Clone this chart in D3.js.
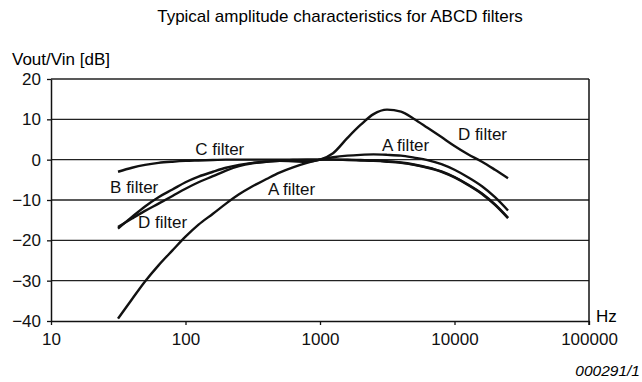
<!DOCTYPE html>
<html>
<head>
<meta charset="utf-8">
<script src="https://cdn.jsdelivr.net/npm/d3@7"></script>
<style>
  html, body { margin: 0; padding: 0; background: #fff; }
  svg { display: block; font-family: "Liberation Sans", Arial, sans-serif; }
</style>
</head>
<body>
<div id="chart"></div>
<script>
// Frequencies (Hz) of the plotted points
const freqs = [31.5, 40, 50, 63, 80, 100, 125, 160, 200, 250, 315, 400, 500, 630, 800,
  1000, 1250, 1600, 2000, 2500, 3150, 4000, 5000, 6300, 8000, 10000, 12500, 16000, 20000, 25000];

// Amplitude (dB) of each filter
const aFilter = [-39.4, -34.6, -30.2, -26.2, -22.5, -19.1, -16.1, -13.4, -10.9, -8.6, -6.6, -4.8, -3.2, -1.9, -0.8,
  0, 0.6, 1.0, 1.2, 1.3, 1.2, 1.0, 0.5, -0.1, -1.1, -2.5, -4.3, -6.6, -9.3, -12.6];
const bFilter = [-17.1, -14.2, -11.6, -9.3, -7.4, -5.6, -4.2, -3.0, -2.0, -1.3, -0.8, -0.5, -0.3, -0.1, 0,
  0, 0, 0, -0.1, -0.2, -0.4, -0.7, -1.2, -1.9, -2.9, -4.3, -6.1, -8.4, -11.1, -14.4];
const cFilter = [-3.0, -2.0, -1.3, -0.8, -0.5, -0.3, -0.2, -0.1, 0, 0, 0, 0, 0, 0, 0,
  0, 0, -0.1, -0.2, -0.3, -0.5, -0.8, -1.3, -2.0, -3.0, -4.4, -6.2, -8.5, -11.2, -14.5];
const dFilter = [-16.7, -14.6, -12.7, -10.9, -9.0, -7.2, -5.6, -4.1, -2.7, -1.6, -0.9, -0.5, -0.3, -0.4, -0.5,
  0, 1.6, 5.4, 8.6, 11.3, 12.4, 11.9, 10.1, 7.9, 5.6, 3.4, 1.4, -0.5, -2.5, -4.6];

// Axis ticks
const xTicks = [10, 100, 1000, 10000, 100000];
const yTicks = [-40, -30, -20, -10, 0, 10, 20];

// Curve labels: text and anchor point (Hz, dB) of the start of the baseline
const labelText = ['C filter', 'B filter', 'D filter', 'A filter', 'A filter', 'D filter'];
const labelFreq = [118, 27.5, 44.4, 410, 2890, 10600];
const labelDb = [1.2, -8.3, -16.9, -8.75, 2.2, 4.9];

const width = 642, height = 382;
const plotLeft = 51, plotRight = 589, plotTop = 79, plotBottom = 321;

const svg = d3.select('#chart').append('svg')
  .attr('width', width)
  .attr('height', height);

const x = d3.scaleLog().domain([10, 100000]).range([plotLeft, plotRight]);
const y = d3.scaleLinear().domain([-40, 20]).range([plotBottom, plotTop]);

// Title and axis captions
svg.append('text')
  .attr('x', 340).attr('y', 22)
  .attr('text-anchor', 'middle')
  .attr('font-size', 17)
  .text('Typical amplitude characteristics for ABCD filters');

svg.append('text')
  .attr('x', 12).attr('y', 65)
  .attr('font-size', 17)
  .text('Vout/Vin [dB]');

svg.append('text')
  .attr('x', 596).attr('y', 322)
  .attr('font-size', 17)
  .text('Hz');

svg.append('text')
  .attr('x', 640).attr('y', 376)
  .attr('text-anchor', 'end')
  .attr('font-size', 15.5)
  .attr('font-style', 'italic')
  .text('000291/1');

// Horizontal grid lines
svg.append('g')
  .selectAll('line')
  .data(yTicks.filter(d => d > -40))
  .enter().append('line')
  .attr('x1', plotLeft).attr('x2', plotRight)
  .attr('y1', d => y(d)).attr('y2', d => y(d))
  .attr('stroke', '#222')
  .attr('stroke-width', 1.3);

// Y axis
const yAxis = svg.append('g')
  .attr('transform', `translate(${plotLeft},0)`)
  .call(d3.axisLeft(y).tickValues(yTicks).tickSize(4).tickSizeOuter(0)
    .tickFormat(d => d < 0 ? '\u2212' + Math.abs(d) : d));
yAxis.select('.domain').attr('stroke', '#111').attr('stroke-width', 1.5);
yAxis.selectAll('.tick line').attr('stroke', '#111').attr('stroke-width', 1.3);
yAxis.selectAll('.tick text')
  .attr('x', -10)
  .attr('font-size', 17)
  .attr('font-family', '"Liberation Sans", Arial, sans-serif')
  .attr('fill', '#111');

// X axis
const xAxis = svg.append('g')
  .attr('transform', `translate(0,${plotBottom})`)
  .call(d3.axisBottom(x).tickValues(xTicks).tickSize(4).tickSizeOuter(0)
    .tickFormat(d3.format('d')));
xAxis.select('.domain').attr('stroke', '#111').attr('stroke-width', 1.5);
xAxis.selectAll('.tick line').attr('stroke', '#111').attr('stroke-width', 1.3);
xAxis.selectAll('.tick text')
  .attr('y', 12)
  .attr('font-size', 17)
  .attr('font-family', '"Liberation Sans", Arial, sans-serif')
  .attr('fill', '#111');

// Right frame line
svg.append('line')
  .attr('x1', plotRight).attr('x2', plotRight)
  .attr('y1', y(20)).attr('y2', plotBottom + 4)
  .attr('stroke', '#111')
  .attr('stroke-width', 1.5);

// Filter curves
const line = d3.line()
  .x(d => x(d[0]))
  .y(d => y(d[1]))
  .curve(d3.curveMonotoneX);

const series = [aFilter, bFilter, cFilter, dFilter];
svg.append('g')
  .selectAll('path')
  .data(series)
  .enter().append('path')
  .attr('d', s => line(freqs.map((f, i) => [f, s[i]])))
  .attr('fill', 'none')
  .attr('stroke', '#111')
  .attr('stroke-width', 2.4)
  .attr('stroke-linejoin', 'round');

// Curve labels
svg.append('g')
  .selectAll('text')
  .data(labelText)
  .enter().append('text')
  .attr('x', (d, i) => x(labelFreq[i]))
  .attr('y', (d, i) => y(labelDb[i]))
  .attr('font-size', 17)
  .attr('fill', '#111')
  .text(d => d);
</script>
</body>
</html>
